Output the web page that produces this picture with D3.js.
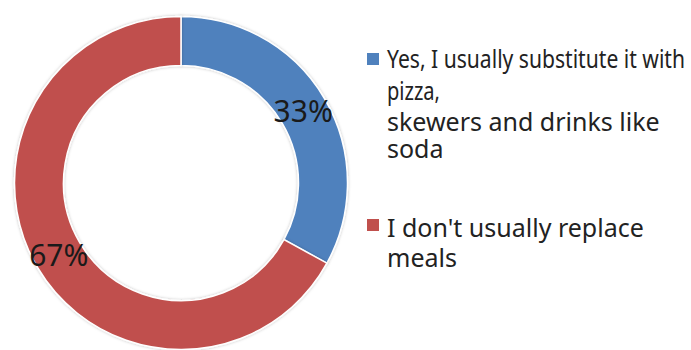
<!DOCTYPE html>
<html>
<head>
<meta charset="utf-8">
<script src="https://cdn.jsdelivr.net/npm/d3@7"></script>
<style>
  html, body { margin: 0; padding: 0; background: #fff; }
  svg { display: block; font-family: "Noto Sans", sans-serif; }
</style>
</head>
<body>
<div id="chart"></div>
<script>
var categories = ["Yes, I usually substitute it with pizza, skewers and drinks like soda",
                  "I don't usually replace meals"];
var values = [33, 67];
var colors = ["#4F81BD", "#C0504D"];
// legend lines as they wrap in the picture
var legendLines = [
  ["Yes, I usually substitute it with", "pizza,", "skewers and drinks like", "soda"],
  ["I don't usually replace", "meals"]
];

var width = 691, height = 350;
var cx = 181, cy = 183, outerR = 166.5, innerR = 117.5;

var svg = d3.select("div#chart").append("svg")
    .attr("width", width)
    .attr("height", height);

var defs = svg.append("defs");
var f = defs.append("filter").attr("id", "shadow")
    .attr("x", "-10%").attr("y", "-10%").attr("width", "120%").attr("height", "120%");
f.append("feDropShadow")
    .attr("dx", 0).attr("dy", 0).attr("stdDeviation", 1.5)
    .attr("flood-color", "#000").attr("flood-opacity", 0.25);

var pie = d3.pie().sort(null).value(function(d) { return d; });
var arc = d3.arc().innerRadius(innerR).outerRadius(outerR);

var g = svg.append("g")
    .attr("transform", "translate(" + cx + "," + cy + ")");

var arcs = pie(values);

g.selectAll("path.slice")
    .data(arcs)
    .enter()
    .append("path")
    .attr("class", "slice")
    .attr("d", arc)
    .attr("fill", function(d, i) { return colors[i]; })
    .attr("stroke", "#fff")
    .attr("stroke-width", 1.5)
    .attr("filter", "url(#shadow)");

var total = d3.sum(values);
g.selectAll("text.pct")
    .data(arcs)
    .enter()
    .append("text")
    .attr("class", "pct")
    .attr("text-anchor", "middle")
    .attr("transform", function(d) {
      var c = arc.centroid(d);
      return "translate(" + c[0] + "," + (c[1] + 11) + ")";
    })
    .attr("font-size", 30)
    .attr("fill", "#1a1a1a")
    .text(function(d) { return Math.round(d.value / total * 100) + "%"; });

// legend
var legendX = 367, textX = 387;
var legendRows = [
  { y: 53, baselines: [68, 100, 131, 158], squeeze: [298, 53, null, null] },
  { y: 219, baselines: [236.5, 266.5], squeeze: [null, null] }
];

var legend = svg.append("g").attr("class", "legend");
legendRows.forEach(function(row, i) {
  legend.append("rect")
      .attr("x", legendX)
      .attr("y", row.y)
      .attr("width", 12)
      .attr("height", 12)
      .attr("fill", colors[i]);
  legendLines[i].forEach(function(line, j) {
    var t = legend.append("text")
        .attr("x", textX)
        .attr("y", row.baselines[j])
        .attr("font-size", 25)
        .attr("fill", "#222")
        .text(line);
    if (row.squeeze[j]) {
      t.attr("textLength", row.squeeze[j]).attr("lengthAdjust", "spacingAndGlyphs");
    }
  });
});
</script>
</body>
</html>
